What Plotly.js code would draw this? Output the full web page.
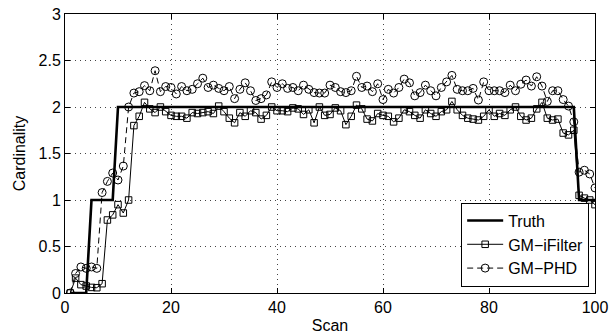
<!DOCTYPE html>
<html>
<head>
<meta charset="utf-8">
<script src="https://cdn.plot.ly/plotly-3.0.1.min.js"></script>
<style>html,body{margin:0;padding:0;background:#fff;}#chart{width:610px;height:336px;}</style>
</head>
<body>
<div id="chart"></div>
<script>
const scan = [1,2,3,4,5,6,7,8,9,10,11,12,13,14,15,16,17,18,19,20,21,22,23,24,25,26,27,28,29,30,31,32,33,34,35,36,37,38,39,40,41,42,43,44,45,46,47,48,49,50,51,52,53,54,55,56,57,58,59,60,61,62,63,64,65,66,67,68,69,70,71,72,73,74,75,76,77,78,79,80,81,82,83,84,85,86,87,88,89,90,91,92,93,94,95,96,97,98,99,100];

const truth = [0,0,0,0,1,1,1,1,1,
  2,2,2,2,2,2,2,2,2,2,2,2,2,2,2,2,2,2,2,2,2,2,2,2,2,2,2,2,2,2,2,2,2,2,2,2,2,2,2,2,2,2,2,2,2,2,2,2,2,2,2,2,2,2,2,2,2,2,2,2,2,2,2,2,2,2,2,2,2,2,2,2,2,2,2,2,2,2,2,2,2,2,2,2,2,2,2,
  1,1,1,1];

const gmIFilter = [0,0.16,0.09,0.075,0.06,0.057,0.10,0.785,0.84,0.95,
  0.86,1.00,1.80,1.90,2.05,1.98,1.94,2.00,1.95,1.91,
  1.90,1.90,1.88,1.94,1.93,1.94,1.95,1.93,2.01,1.95,
  1.88,1.83,1.94,1.90,1.96,1.94,1.87,1.91,2.00,1.96,
  1.96,1.95,1.99,1.98,1.92,1.97,1.83,2.00,1.91,1.92,
  1.99,1.96,1.81,1.90,2.02,1.98,1.87,1.85,1.93,1.91,
  1.90,1.84,1.88,1.97,1.95,1.91,1.88,1.97,1.93,1.90,
  1.95,1.97,2.06,1.97,1.91,1.88,1.87,1.86,1.90,1.97,
  1.90,1.93,1.91,1.97,2.00,1.90,1.86,1.88,1.98,2.05,
  1.88,1.86,1.87,1.72,1.70,1.75,1.05,1.02,1.00,0.95];

const gmPHD = [0,0.21,0.28,0.265,0.28,0.265,1.08,1.20,1.29,1.215,
  1.365,2.00,2.15,2.165,2.23,2.175,2.39,2.165,2.22,2.21,
  2.14,2.22,2.175,2.19,2.25,2.31,2.21,2.235,2.20,2.175,
  2.22,2.09,2.19,2.26,2.175,2.07,2.09,2.13,2.27,2.21,
  2.25,2.20,2.21,2.175,2.235,2.19,2.155,2.15,2.15,2.235,
  2.21,2.165,2.155,2.175,2.33,2.21,2.225,2.165,2.25,2.08,
  2.19,2.15,2.21,2.30,2.26,2.12,2.155,2.235,2.175,2.12,
  2.21,2.27,2.34,2.19,2.175,2.175,2.20,2.075,2.27,2.175,
  2.175,2.175,2.155,2.235,2.175,2.245,2.29,2.225,2.325,2.225,
  2.06,2.175,2.175,2.08,2.01,1.84,1.30,1.32,1.28,1.13];

const xTicks = [0,20,40,60,80,100];
const yTicks = [0,0.5,1,1.5,2,2.5,3];
const yTickText = ['0','0.5','1','1.5','2','2.5','3'];

const FONT = 'Liberation Sans, Arial, Helvetica, sans-serif';

const traces = [
  {x: scan, y: truth, name: 'Truth', type: 'scatter', mode: 'lines',
   line: {color: '#000', width: 2.6}},
  {x: scan, y: gmIFilter, name: 'GM\u2212iFilter', type: 'scatter', mode: 'lines+markers',
   line: {color: '#000', width: 1},
   marker: {symbol: 'square-open', size: 6.5, color: '#000', line: {width: 1, color: '#000'}}},
  {x: scan, y: gmPHD, name: 'GM\u2212PHD', type: 'scatter', mode: 'lines+markers',
   line: {color: '#000', width: 1, dash: '6px,4px'},
   marker: {symbol: 'circle-open', size: 8, color: '#000', line: {width: 1, color: '#000'}}}
];

const axisCommon = {
  showgrid: true, gridcolor: '#444', griddash: '1px,4px', gridwidth: 1,
  zeroline: false, showline: true, linecolor: '#000', linewidth: 1,
  mirror: 'allticks', ticks: 'inside', ticklen: 5, tickcolor: '#000',
  tickfont: {family: FONT, size: 16, color: '#000'}
};

const layout = {
  width: 610, height: 336,
  margin: {l: 65, r: 15, t: 14, b: 43},
  paper_bgcolor: '#fff', plot_bgcolor: '#fff',
  font: {family: FONT, color: '#000'},
  showlegend: true,
  xaxis: Object.assign({}, axisCommon, {
    range: [0, 100], tickvals: xTicks, ticktext: xTicks.map(String),
    title: {text: 'Scan', font: {family: FONT, size: 16}, standoff: 4}
  }),
  yaxis: Object.assign({}, axisCommon, {
    range: [0, 3], tickvals: yTicks, ticktext: yTickText,
    title: {text: 'Cardinality', font: {family: FONT, size: 16}, standoff: 8}
  }),
  legend: {
    x: 0.989, y: 0.023, xanchor: 'right', yanchor: 'bottom',
    bgcolor: '#fff', bordercolor: '#000', borderwidth: 1,
    font: {family: FONT, size: 16, color: '#000'},
    tracegroupgap: 0, itemwidth: 36
  }
};

Plotly.newPlot('chart', traces, layout, {staticPlot: true, displayModeBar: false});
</script>
</body>
</html>
